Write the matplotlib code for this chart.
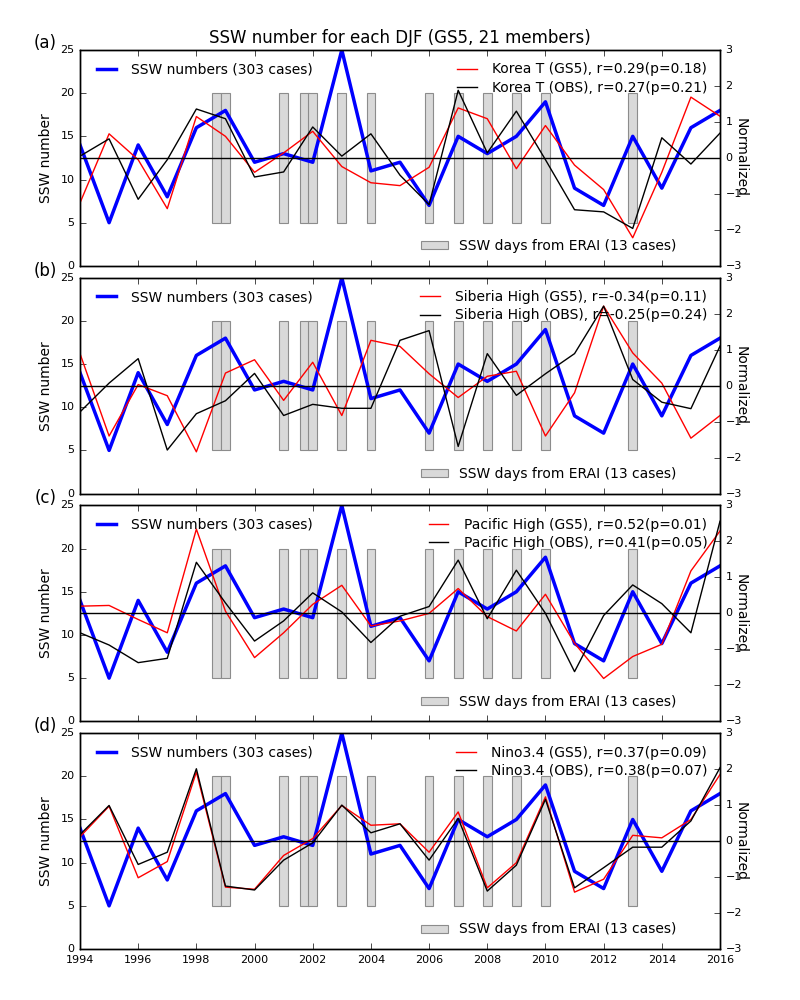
import numpy as np
import matplotlib
matplotlib.use('Agg')
import matplotlib.pyplot as plt

plt.style.use('classic')
plt.rcParams['figure.facecolor'] = 'white'
plt.rcParams['savefig.facecolor'] = 'white'

# years and SSW counts (GS5, 21 members)
years = np.arange(1994, 2017)
ssw_num = [14, 5, 14, 8, 16, 18, 12, 13, 12, 25, 11, 12, 7,
           15, 13, 15, 19, 9, 7, 15, 9, 16, 18]

# SSW days from ERAI (13 cases)
erai_ssw = [1998.7, 1999.0, 2001.0, 2001.72, 2002.0, 2003.0, 2004.0,
            2006.0, 2007.0, 2008.0, 2009.0, 2010.0, 2013.0]

# normalized indices
korea_gs5 = [-1.25, 0.67, -0.05, -1.41, 1.15, 0.60, -0.40, 0.14, 0.74, -0.24, -0.69, -0.77,
             -0.26, 1.39, 1.09, -0.30, 0.90, -0.20, -0.88, -2.22, -0.40, 1.69, 1.16]
korea_obs = [0.05, 0.53, -1.15, -0.05, 1.36, 1.09, -0.53, -0.39, 0.86, 0.05, 0.67, -0.48,
             -1.30, 1.88, 0.14, 1.30, -0.05, -1.44, -1.50, -1.96, 0.56, -0.17, 0.69]
sib_gs5 = [0.89, -1.40, 0.03, -0.28, -1.84, 0.35, 0.72, -0.41, 0.65, -0.83, 1.26, 1.09,
           0.33, -0.33, 0.26, 0.40, -1.40, -0.20, 2.21, 0.91, 0.07, -1.46, -0.83]
sib_obs = [-0.73, 0.07, 0.75, -1.79, -0.78, -0.42, 0.34, -0.83, -0.52, -0.63, -0.63, 1.26,
           1.53, -1.69, 0.89, -0.27, 0.33, 0.89, 2.21, 0.17, -0.46, -0.64, 1.10]
pac_gs5 = [0.20, 0.22, -0.17, -0.54, 2.34, 0.06, -1.23, -0.54, 0.25, 0.78, -0.35, -0.21,
           0.0, 0.69, -0.09, -0.49, 0.53, -0.83, -1.81, -1.20, -0.86, 1.18, 2.29]
pac_obs = [-0.54, -0.88, -1.37, -1.25, 1.42, 0.29, -0.77, -0.21, 0.57, 0.04, -0.81, -0.08,
           0.19, 1.48, -0.15, 1.20, 0.0, -1.62, -0.06, 0.79, 0.27, -0.54, 2.56]
nino_gs5 = [0.12, 0.97, -1.02, -0.57, 1.92, -1.28, -1.34, -0.40, 0.07, 0.99, 0.44, 0.48,
            -0.31, 0.81, -1.30, -0.60, 1.23, -1.42, -1.06, 0.16, 0.09, 0.60, 1.85]
nino_obs = [0.18, 0.99, -0.65, -0.31, 2.01, -1.25, -1.36, -0.53, -0.05, 1.00, 0.23, 0.48,
            -0.53, 0.63, -1.39, -0.67, 1.16, -1.30, -0.74, -0.17, -0.17, 0.56, 2.04]

names = ['Korea T', 'Siberia High', 'Pacific High', 'Nino3.4']
gs5 = [korea_gs5, sib_gs5, pac_gs5, nino_gs5]
obs = [korea_obs, sib_obs, pac_obs, nino_obs]
r_gs5 = ['r=0.29(p=0.18)', 'r=-0.34(p=0.11)', 'r=0.52(p=0.01)', 'r=0.37(p=0.09)']
r_obs = ['r=0.27(p=0.21)', 'r=-0.25(p=0.24)', 'r=0.41(p=0.05)', 'r=0.38(p=0.07)']
panel = ['(a)', '(b)', '(c)', '(d)']

fig = plt.figure(figsize=(8, 10), dpi=100)
fig.subplots_adjust(left=0.1, right=0.9, top=0.95, bottom=0.051, hspace=0.055)

for i in range(4):
    ax = fig.add_subplot(4, 1, i+1)
    bars = ax.bar(erai_ssw, [15]*len(erai_ssw), bottom=5, width=0.3, align='center',
                  facecolor='#d9d9d9', edgecolor='#8c8c8c', linewidth=0.8)
    l1, = ax.plot(years, ssw_num, color='b', lw=2.5)
    ax.set_xlim(1994, 2016)
    ax.set_ylim(0, 25)
    ax.set_xticks(np.arange(1994, 2017, 2))
    ax.ticklabel_format(axis='x', useOffset=False)
    ax.set_yticks(np.arange(0, 26, 5))
    ax.tick_params(labelsize=8)
    ax.set_ylabel('SSW number', fontsize=10)
    if i < 3:
        ax.set_xticklabels([])
    leg1 = ax.legend([l1], ['SSW numbers (303 cases)'], loc='upper left',
                     frameon=False, fontsize=10)
    ax.add_artist(leg1)
    ax.legend([bars], ['SSW days from ERAI (13 cases)'], loc='lower right',
              bbox_to_anchor=(0.952, 0.0), frameon=False, fontsize=10,
              handleheight=0.5)

    ax2 = ax.twinx()
    l2, = ax2.plot(years, gs5[i], color='r', lw=1)
    l3, = ax2.plot(years, obs[i], color='k', lw=1)
    ax2.axhline(0, color='k', lw=1)
    ax2.set_xlim(1994, 2016)
    ax2.set_ylim(-3, 3)
    ax2.set_yticks(np.arange(-3, 4, 1))
    ax2.tick_params(labelsize=8)
    ax2.set_ylabel('Normalized', fontsize=10, rotation=270, labelpad=4)
    ax2.legend([l2, l3], [names[i] + ' (GS5), ' + r_gs5[i], names[i] + ' (OBS), ' + r_obs[i]],
               loc='upper right', frameon=False, fontsize=10, labelspacing=0.3)

    fig.text(0.057, ax.get_position().y1 + 0.002, panel[i], fontsize=12, ha='center')
    if i == 0:
        ax.set_title('SSW number for each DJF (GS5, 21 members)', fontsize=12)

fig.savefig('out.png', dpi=100)
